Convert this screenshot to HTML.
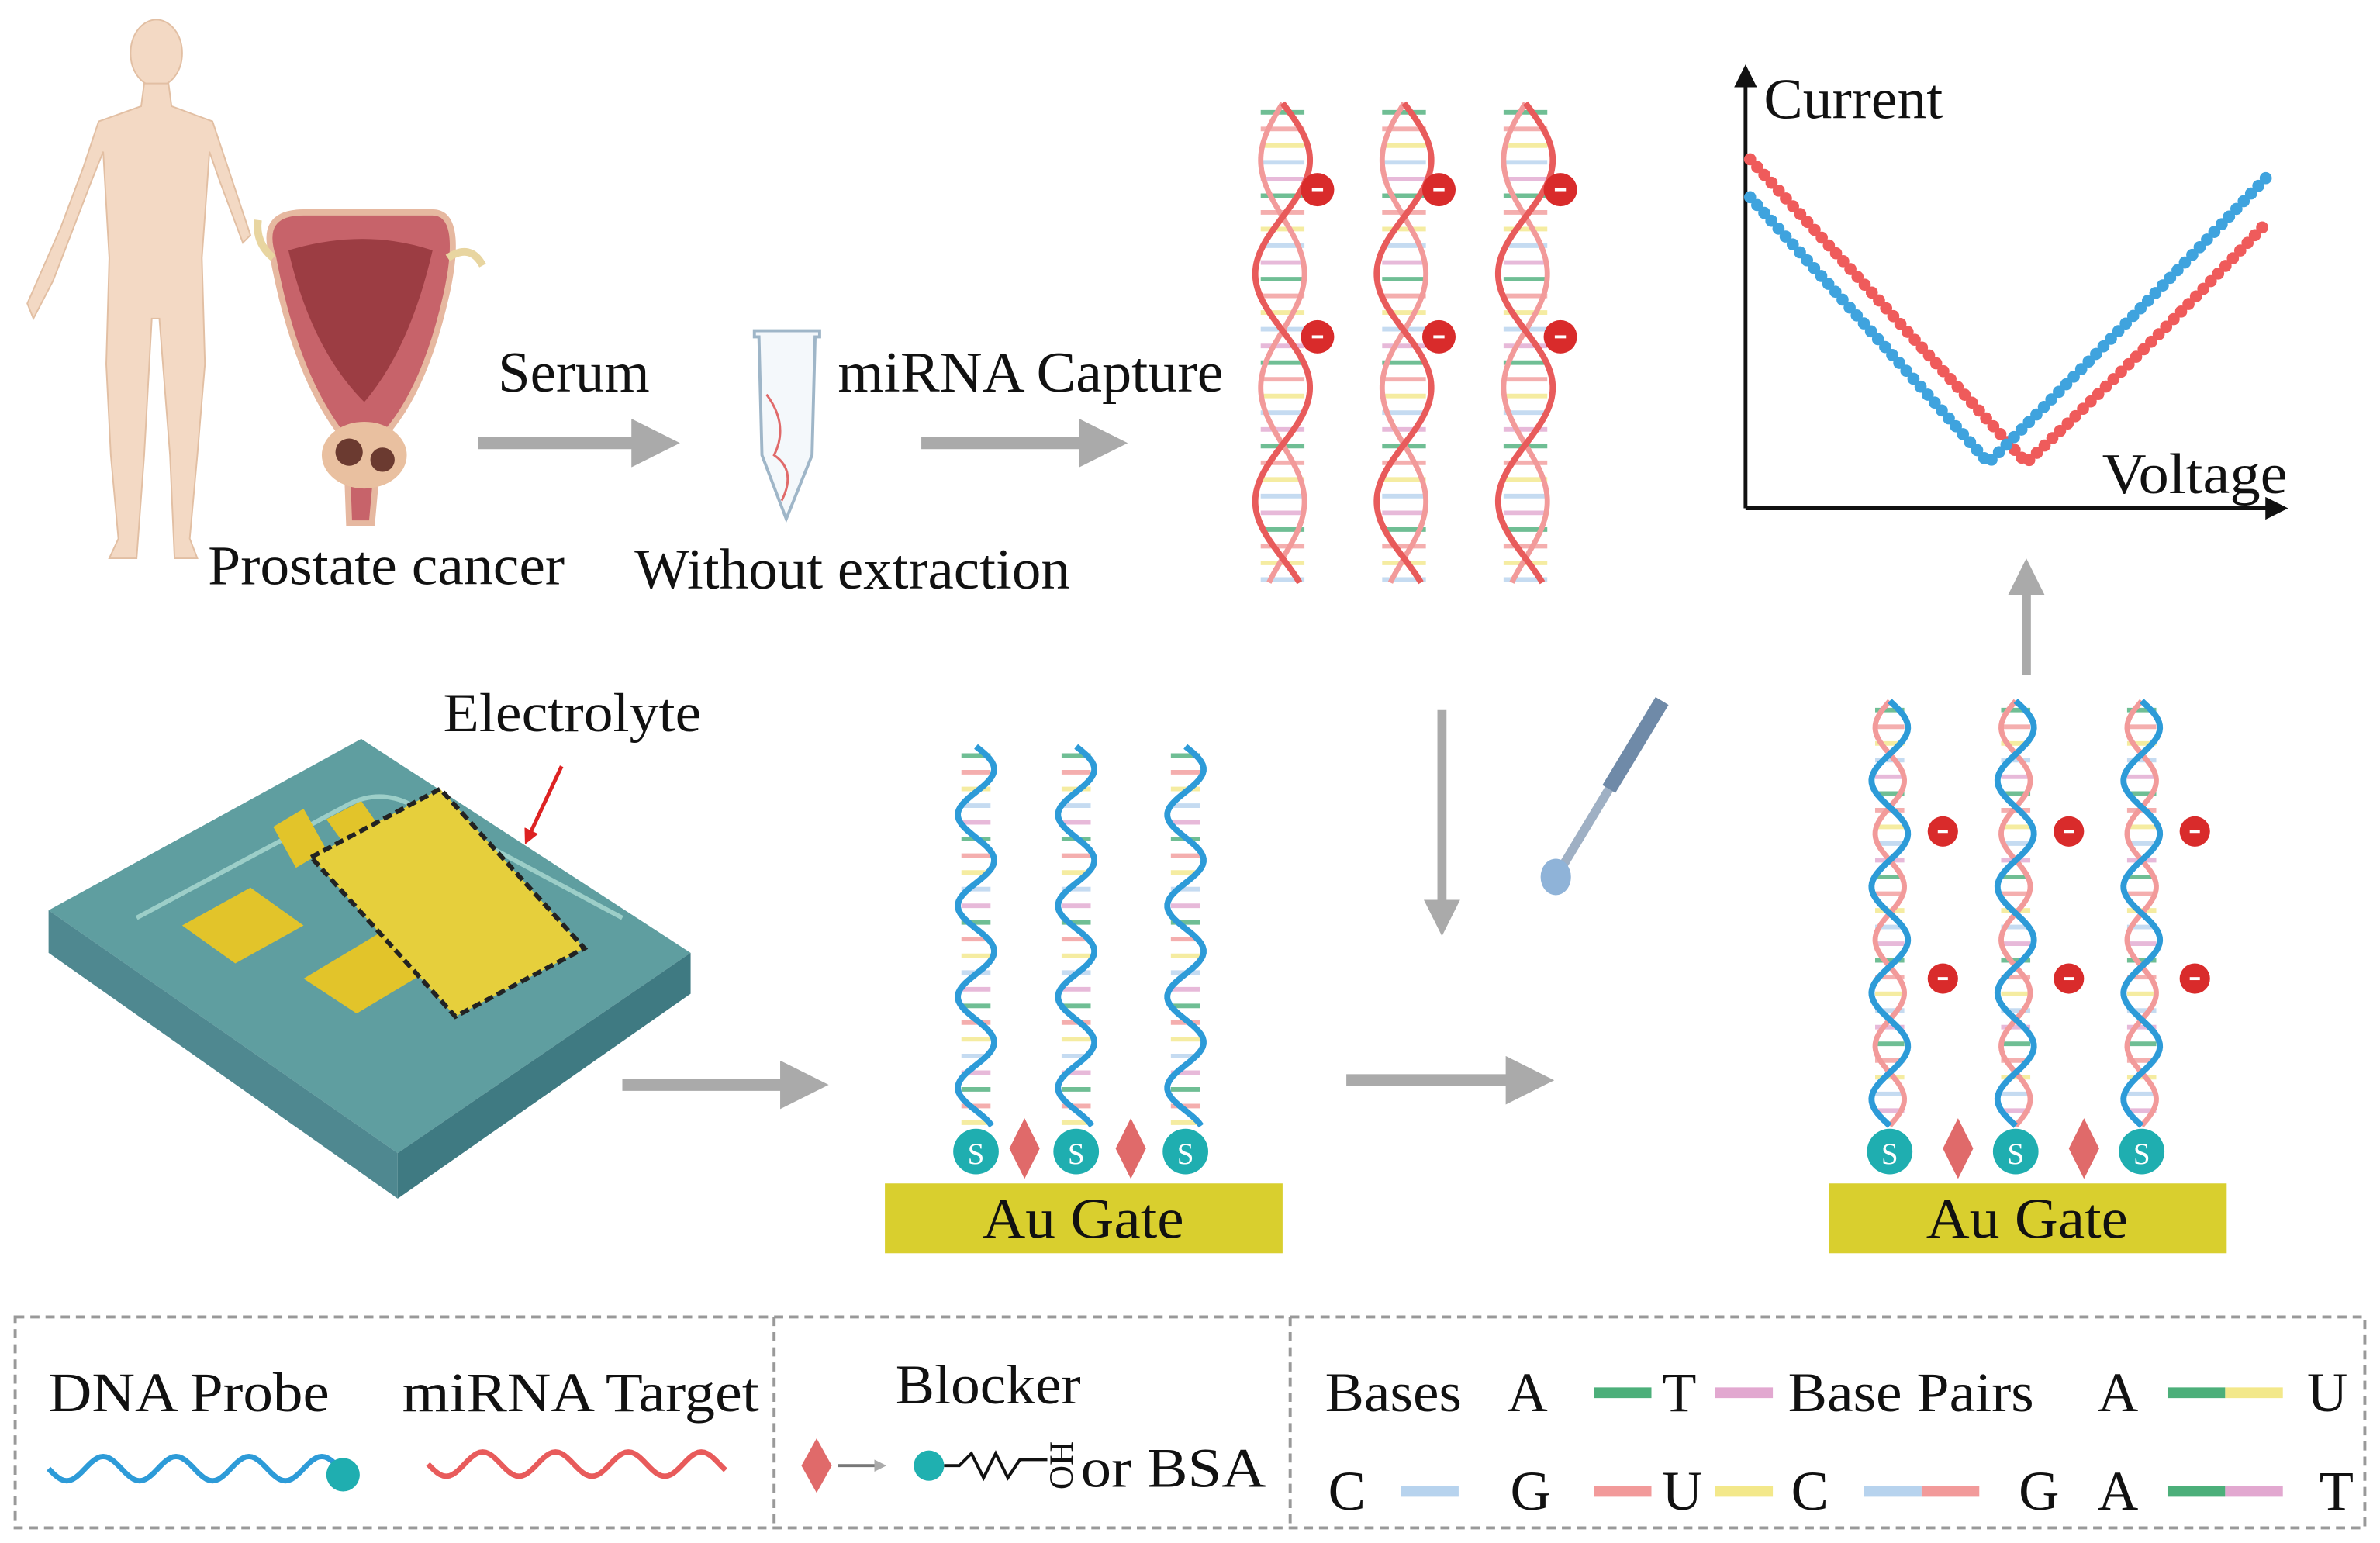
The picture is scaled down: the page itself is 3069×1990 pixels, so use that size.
<!DOCTYPE html>
<html><head><meta charset="utf-8"><style>
html,body{margin:0;padding:0;background:#fff;}
svg{display:block;}
text{font-family:"Liberation Serif",serif;fill:#111;}
</style></head><body>
<svg id="s" width="3069" height="1990" viewBox="0 0 1568 1017" preserveAspectRatio="none" xmlns="http://www.w3.org/2000/svg">
<defs>
<marker id="ah" markerWidth="4" markerHeight="4" refX="2" refY="2" orient="auto" markerUnits="strokeWidth"><path d="M0,0 L4,2 L0,4 z" fill="#aaa"/></marker>
<marker id="ar" markerWidth="4" markerHeight="4" refX="2" refY="2" orient="auto" markerUnits="strokeWidth"><path d="M0,0 L4,2 L0,4 z" fill="#d22"/></marker>
<marker id="ak" markerWidth="6" markerHeight="6" refX="5" refY="3" orient="auto" markerUnits="strokeWidth"><path d="M0,0 L6,3 L0,6 z" fill="#111"/></marker>
</defs>
<rect width="1568" height="1017" fill="#fff"/>
<!-- human -->
<g fill="#f3d9c4" stroke="#e2bfa3" stroke-width="1">
<ellipse cx="103" cy="35" rx="17" ry="22"/>
<path d="M95,55 L111,55 L113,70 L140,80 L150,110 L165,155 L160,160 L145,120 L138,100 L133,170 L135,240 L130,300 L125,355 L130,368 L115,368 L112,300 L105,210 L100,210 L95,300 L90,368 L72,368 L78,355 L73,300 L70,240 L72,170 L68,100 L60,120 L35,185 L22,210 L18,200 L40,150 L55,110 L65,80 L93,70 z"/>
</g>
<!-- prostate -->
<path d="M180,170 Q170,140 200,140 L285,140 Q305,140 295,190 Q280,260 250,290 L245,345 L230,345 L228,290 Q195,250 180,170 z" fill="#c7636a" stroke="#e6b8a0" stroke-width="4"/>
<path d="M190,165 Q240,150 285,165 Q270,230 240,265 Q205,230 190,165z" fill="#8a2e33" opacity=".7"/>
<ellipse cx="240" cy="300" rx="28" ry="22" fill="#e9c0a0"/>
<circle cx="230" cy="298" r="9" fill="#6b3a30"/><circle cx="252" cy="303" r="8" fill="#6b3a30"/>
<path d="M180,170 Q168,160 170,145" stroke="#e8d5a0" stroke-width="5" fill="none"/>
<path d="M295,170 Q310,160 318,175" stroke="#e8d5a0" stroke-width="5" fill="none"/>
<text x="137" y="385" font-size="37" textLength="235" lengthAdjust="spacingAndGlyphs">Prostate cancer</text>
<text x="328" y="258" font-size="38" textLength="100" lengthAdjust="spacingAndGlyphs">Serum</text>
<line x1="315" y1="292" x2="432" y2="292" stroke="#aaa" stroke-width="8" marker-end="url(#ah)"/>
<!-- tube -->
<path d="M497,218 L540,218 L540,222 L537,222 L535,300 L518,342 L502,300 L500,222 L497,222z" fill="#f4f8fb" stroke="#9fb6c8" stroke-width="2"/>
<path d="M505,260 Q520,280 510,300 Q525,310 515,330" stroke="#e06a6a" stroke-width="1.5" fill="none"/>
<text x="552" y="258" font-size="38" textLength="254" lengthAdjust="spacingAndGlyphs">miRNA Capture</text>
<text x="418" y="388" font-size="38" textLength="287" lengthAdjust="spacingAndGlyphs">Without extraction</text>
<line x1="607" y1="292" x2="727" y2="292" stroke="#aaa" stroke-width="8" marker-end="url(#ah)"/>
<g id="helices"></g>
<!-- graph -->
<line x1="1150" y1="335" x2="1150" y2="45" stroke="#111" stroke-width="2.5" marker-end="url(#ak)"/>
<line x1="1150" y1="335" x2="1505" y2="335" stroke="#111" stroke-width="2.5" marker-end="url(#ak)"/>
<text x="1162" y="78" font-size="38" textLength="118" lengthAdjust="spacingAndGlyphs">Current</text>
<text x="1385" y="325" font-size="38" textLength="122" lengthAdjust="spacingAndGlyphs">Voltage</text>
<path d="M1153,105 Q1240,200 1335,305 Q1415,230 1495,145" stroke="#ef5b5b" stroke-width="8" fill="none" stroke-linecap="round" stroke-dasharray="0 7"/>
<path d="M1153,130 Q1230,215 1310,305 Q1400,215 1495,115" stroke="#3fa3de" stroke-width="8" fill="none" stroke-linecap="round" stroke-dasharray="0 7"/>
<line x1="1335" y1="445" x2="1335" y2="380" stroke="#aaa" stroke-width="6" marker-end="url(#ah)"/>
<line x1="950" y1="468" x2="950" y2="605" stroke="#aaa" stroke-width="6" marker-end="url(#ah)"/>
<!-- pipette -->
<g>
<line x1="1030" y1="570" x2="1095" y2="462" stroke="#9fb0c4" stroke-width="6"/>
<line x1="1060" y1="520" x2="1095" y2="462" stroke="#6f8aa8" stroke-width="10"/>
<ellipse cx="1025" cy="578" rx="10" ry="12" fill="#8fb3d8"/>
</g>
<!-- device -->
<polygon points="32,600 238,487 455,628 262,760" fill="#5f9ea0"/>
<polygon points="32,600 262,760 262,790 32,628" fill="#4f8890"/>
<polygon points="262,760 455,628 455,655 262,790" fill="#3f7a82"/>
<path d="M90,605 L230,530 Q250,520 270,530 L410,605" stroke="#b6e3d8" stroke-width="3" fill="none" opacity=".7"/>
<polygon points="120,610 165,585 200,610 155,635" fill="#e2c42a"/>
<polygon points="200,645 255,612 290,635 235,668" fill="#e2c42a"/>
<polygon points="180,545 200,533 215,560 195,572" fill="#e2c42a"/>
<polygon points="215,540 238,528 250,545 228,558" fill="#e2c42a"/>
<polygon points="205,565 290,520 385,625 300,670" fill="#e6cf3c" stroke="#222" stroke-width="3" stroke-dasharray="6 3"/>
<text x="292" y="482" font-size="36" textLength="170" lengthAdjust="spacingAndGlyphs">Electrolyte</text>
<line x1="370" y1="505" x2="348" y2="552" stroke="#d22" stroke-width="2.5" marker-end="url(#ar)"/>
<line x1="410" y1="715" x2="530" y2="715" stroke="#aaa" stroke-width="8" marker-end="url(#ah)"/>
<line x1="887" y1="712" x2="1008" y2="712" stroke="#aaa" stroke-width="8" marker-end="url(#ah)"/>
<!-- Au gates -->
<rect x="583" y="780" width="262" height="46" fill="#d9cf2e"/>
<text x="647" y="816" font-size="38" textLength="133" lengthAdjust="spacingAndGlyphs">Au Gate</text>
<rect x="1205" y="780" width="262" height="46" fill="#d9cf2e"/>
<text x="1269" y="816" font-size="38" textLength="133" lengthAdjust="spacingAndGlyphs">Au Gate</text>
<g id="balls"></g>
<!-- legend -->
<rect x="10" y="868" width="1548" height="139" fill="none" stroke="#999" stroke-width="2" stroke-dasharray="6 4"/>
<line x1="510" y1="868" x2="510" y2="1007" stroke="#999" stroke-width="2" stroke-dasharray="6 4"/>
<line x1="850" y1="868" x2="850" y2="1007" stroke="#999" stroke-width="2" stroke-dasharray="6 4"/>
<text x="32" y="930" font-size="37" textLength="185" lengthAdjust="spacingAndGlyphs">DNA Probe</text>
<text x="265" y="930" font-size="37" textLength="235" lengthAdjust="spacingAndGlyphs">miRNA Target</text>
<text x="590" y="925" font-size="37" textLength="122" lengthAdjust="spacingAndGlyphs">Blocker</text>
<text x="712" y="980" font-size="37" textLength="122" lengthAdjust="spacingAndGlyphs">or BSA</text>
<path d="M538,948 L548,966 L538,984 L528,966z" fill="#e06a6a"/>
<line x1="552" y1="966" x2="580" y2="966" stroke="#777" stroke-width="2" marker-end="url(#ah)"/>
<circle cx="612" cy="966" r="10" fill="#1fb0b0"/>
<path d="M622,966 L632,966 L640,958 L648,974 L656,958 L664,974 L672,962 L690,962" stroke="#111" stroke-width="2" fill="none"/>
<text x="692" y="950" font-size="22" transform="rotate(90 692 950)">HO</text>
<text x="873" y="930" font-size="37" textLength="90" lengthAdjust="spacingAndGlyphs">Bases</text>
<text x="993" y="930" font-size="37">A</text>
<line x1="1050" y1="918" x2="1088" y2="918" stroke="#4caf7a" stroke-width="7"/>
<text x="1095" y="930" font-size="37">T</text>
<line x1="1130" y1="918" x2="1168" y2="918" stroke="#e2a8d0" stroke-width="7"/>
<text x="1178" y="930" font-size="37" textLength="162" lengthAdjust="spacingAndGlyphs">Base Pairs</text>
<text x="1382" y="930" font-size="37">A</text>
<line x1="1428" y1="918" x2="1466" y2="918" stroke="#4caf7a" stroke-width="7"/>
<line x1="1466" y1="918" x2="1504" y2="918" stroke="#f3e88a" stroke-width="7"/>
<text x="1520" y="930" font-size="37">U</text>
<text x="875" y="995" font-size="37">C</text>
<line x1="923" y1="983" x2="961" y2="983" stroke="#b7d3ee" stroke-width="7"/>
<text x="995" y="995" font-size="37">G</text>
<line x1="1050" y1="983" x2="1088" y2="983" stroke="#f29a9a" stroke-width="7"/>
<text x="1095" y="995" font-size="37">U</text>
<line x1="1130" y1="983" x2="1168" y2="983" stroke="#f3e88a" stroke-width="7"/>
<text x="1180" y="995" font-size="37">C</text>
<line x1="1228" y1="983" x2="1266" y2="983" stroke="#b7d3ee" stroke-width="7"/>
<line x1="1266" y1="983" x2="1304" y2="983" stroke="#f29a9a" stroke-width="7"/>
<text x="1330" y="995" font-size="37">G</text>
<text x="1382" y="995" font-size="37">A</text>
<line x1="1428" y1="983" x2="1466" y2="983" stroke="#4caf7a" stroke-width="7"/>
<line x1="1466" y1="983" x2="1504" y2="983" stroke="#e2a8d0" stroke-width="7"/>
<text x="1528" y="995" font-size="37">T</text>
<g id="leg"></g>
</svg>
<script>
var NS="http://www.w3.org/2000/svg";
function el(p,t,a){var e=document.createElementNS(NS,t);for(var k in a)e.setAttribute(k,a[k]);document.getElementById(p).appendChild(e);return e;}
var cols=["#4caf7a","#f29a9a","#f3e88a","#b7d3ee","#e2a8d0"];
function helix(g,cx,y0,y1,A,per,c1,c2){
  var d1="",d2="";
  for(var y=y0;y<=y1;y+=2){var s=Math.sin((y-y0)*2*Math.PI/per);
    d1+=(y==y0?"M":"L")+(cx+A*s)+","+y; d2+=(y==y0?"M":"L")+(cx-A*s*0.8)+","+y;}
  var i=0;
  for(var y=y0+6;y<y1;y+=11){
    el(g,"line",{x1:cx-A*0.8,x2:cx+A*0.8,y1:y,y2:y,stroke:cols[i++%5],"stroke-width":3,opacity:.8});}
  if(c2)el(g,"path",{d:d2,stroke:c2,"stroke-width":3.5,fill:"none"});
  el(g,"path",{d:d1,stroke:c1,"stroke-width":4,fill:"none"});
}
function dot(g,x,y,r){el(g,"circle",{cx:x,cy:y,r:r,fill:"#d92b2b"});el(g,"line",{x1:x-r/3,x2:x+r/3,y1:y,y2:y,stroke:"#fff","stroke-width":2});}
[845,925,1005].forEach(function(x){helix("helices",x,68,385,18,150,"#e85b5b","#f29a9a");dot("helices",x+23,125,11);dot("helices",x+23,222,11);});
[643,709,781].forEach(function(x){helix("helices",x,492,742,12,60,"#2d9bd8",null);});
[1245,1328,1411].forEach(function(x){helix("helices",x,462,742,12,70,"#2d9bd8","#f29a9a");dot("helices",x+35,548,10);dot("helices",x+35,645,10);});
function ball(x,y){el("balls","circle",{cx:x,cy:y,r:15,fill:"#1faeb0"});var t=el("balls","text",{x:x,y:y+8,"font-size":20,"text-anchor":"middle",fill:"#fff"});t.style.fill="#fff";t.textContent="S";}
function dia(x,y){el("balls","path",{d:"M"+x+","+(y-20)+" L"+(x+10)+","+y+" L"+x+","+(y+20)+" L"+(x-10)+","+y+"z",fill:"#e06a6a"});}
[643,709,781,1245,1328,1411].forEach(function(x){ball(x,759);});
[675,745,1290,1373].forEach(function(x){dia(x,757);});
var d="";for(var x=32;x<=222;x+=2)d+=(x==32?"M":"L")+x+","+(968+8*Math.sin((x-32)*2*Math.PI/48));
el("leg","path",{d:d,stroke:"#2d9bd8","stroke-width":3.5,fill:"none"});
el("leg","circle",{cx:226,cy:972,r:11,fill:"#1faeb0"});
d="";for(var x=282;x<=478;x+=2)d+=(x==282?"M":"L")+x+","+(965+8*Math.sin((x-282)*2*Math.PI/48));
el("leg","path",{d:d,stroke:"#e85b5b","stroke-width":3.5,fill:"none"});
</script>
</body></html>
